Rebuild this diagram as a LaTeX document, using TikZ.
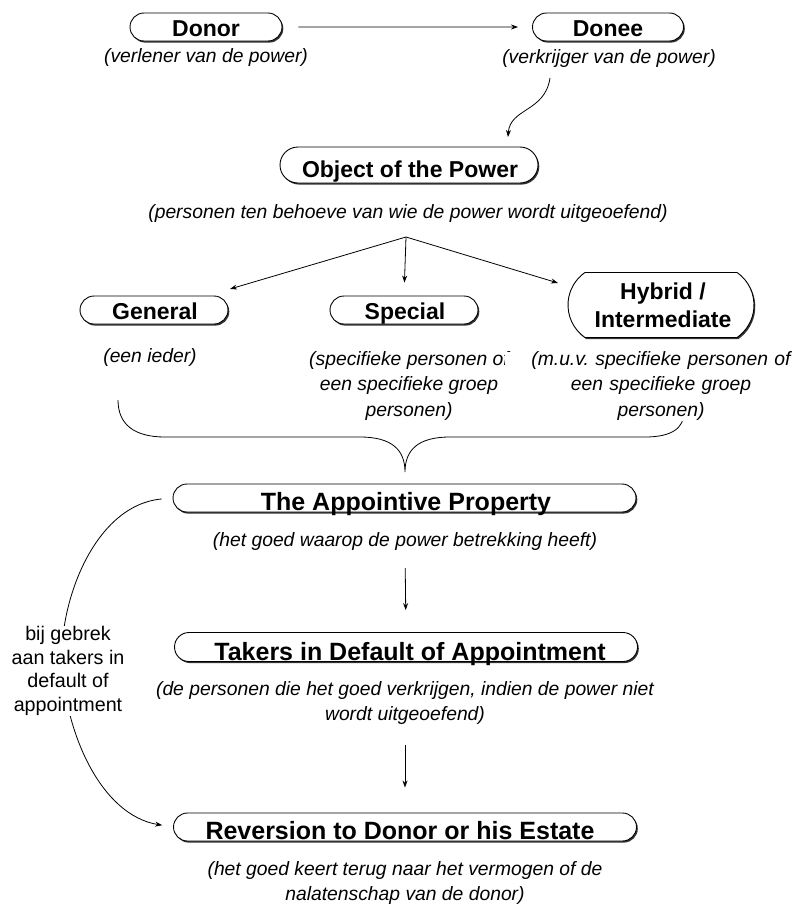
\documentclass[tikz,border=0pt]{standalone}
\usepackage{fontspec}
\setmainfont{Liberation Sans}
\usetikzlibrary{shapes.misc,shadows,arrows.meta,calc}
\frenchspacing
\begin{document}
\begin{tikzpicture}[x=1pt,y=-1pt,
  pill/.style={rounded rectangle, draw, line width=0.9pt, fill=white, inner sep=0pt,
     drop shadow={shadow xshift=1.3pt, shadow yshift=-1.6pt, opacity=1, fill=black!80}},
  btxt/.style={font=\fontsize{23}{28}\selectfont\bfseries, anchor=base, inner sep=0pt},
  bigtxt/.style={font=\fontsize{25}{30}\selectfont\bfseries, anchor=base, inner sep=0pt},
  desc/.style={font=\fontsize{19.3}{25.5}\selectfont\itshape, align=center, inner sep=0pt},
  arr/.style={line width=0.8pt, -{Stealth[length=7pt,width=5pt]}},
  plain/.style={line width=0.8pt}]
\useasboundingbox (0,0) rectangle (802,905);

% Donor / Donee
\node[pill, minimum width=152pt, minimum height=28pt] (donorbox) at (206,27) {};
\node[btxt] (donor) at (206,36) {Donor};
\node[desc] (donordesc) at (206,58) {(verlener van de power)};
\node[pill, minimum width=151pt, minimum height=28pt] (doneebox) at (608,27) {};
\node[btxt] (donee) at (608,36) {Donee};
\node[desc] (doneedesc) at (609,59) {(verkrijger van de power)};
\draw[arr, shorten <=16pt, shorten >=14pt] (donorbox) -- (doneebox);

\coordinate (cs) at (550,78);
\coordinate (ce) at (508,137);
\draw[arr] (cs) .. controls (545,112) and (510,108) .. (ce);

% Object of the power
\node[pill, minimum width=258pt, minimum height=36pt] (objbox) at (409,165) {};
\node[btxt] (obj) at (410,177) {Object of the Power};
\node[desc] (objdesc) at (408,214) {(personen ten behoeve van wie de power wordt uitgeoefend)};
\coordinate (split) at (406,237);

\node[pill, minimum width=148pt, minimum height=28pt] (genbox) at (154,310) {};
\node[btxt] (gen) at (155,319) {General};
\node[pill, minimum width=148pt, minimum height=28pt] (specbox) at (404,310) {};
\node[btxt] (spec) at (405,319) {Special};
\node[pill, rounded rectangle arc length=110, minimum width=186pt, minimum height=65pt] (hybbox) at (661,305) {};
\node[btxt, anchor=center, align=center] (hyb) at (663,305) {Hybrid /\\Intermediate};

\coordinate (gend) at (230,289);
\coordinate (hend) at (558,283);
\draw[arr] (split) -- (gend);
\draw[arr, shorten >=13pt] (split) -- (specbox.north);
\draw[arr] (split) -- (hend);

% brace
\draw[plain] (118,400) .. controls (118,425) and (135,437) .. (165,437) -- (360,437)
  .. controls (392,437) and (405,450) .. (405,472)
  .. controls (405,450) and (418,437) .. (450,437) -- (645,437)
  .. controls (672,437) and (684,428) .. (684,412);

\node[desc] (gendesc) at (150,358) {(een ieder)};
\node[desc] (specdesc) at (409,386) {(specifieke personen of\\een specifieke groep\\personen)};
\node[desc, fill=white, text width=312pt] (hybdesc) at (661,386) {(m.u.v. specifieke personen of\\een specifieke groep\\personen)};

% lower chain
\node[pill, minimum width=463pt, minimum height=28pt] (apbox) at (404.5,498) {};
\node[bigtxt] (ap) at (406,510.5) {The Appointive Property};
\node[desc] (apdesc) at (405,542) {(het goed waarop de power betrekking heeft)};
\node[pill, minimum width=463pt, minimum height=29pt] (tkbox) at (406,647) {};
\node[bigtxt] (tk) at (410,660.5) {Takers in Default of Appointment};
\node[desc] (tkdesc) at (405,703) {(de personen die het goed verkrijgen, indien de power niet\\wordt uitgeoefend)};
\node[pill, minimum width=463pt, minimum height=28pt] (rvbox) at (405,827) {};
\node[bigtxt] (rv) at (400,839.5) {Reversion to Donor or his Estate};
\node[desc] (rvdesc) at (405,883) {(het goed keert terug naar het vermogen of de\\nalatenschap van de donor)};

\draw[arr, shorten <=17pt, shorten >=22pt] (apdesc.south) -- (tkbox.north);
\draw[arr, shorten <=20pt, shorten >=25pt] (tkdesc.south) -- (rvbox.north);

% left curve
\draw[arr, shorten <=11pt, shorten >=11pt] (apbox.west) .. controls (95,505) and (60,600) .. (62,660)
  .. controls (64,730) and (100,815) .. (rvbox.west);
\node[font=\fontsize{19.7}{23.5}\selectfont, align=center, fill=white, inner sep=1pt] (lbl) at (68,671) {bij gebrek\\aan takers in\\default of\\appointment};
\end{tikzpicture}
\end{document}
